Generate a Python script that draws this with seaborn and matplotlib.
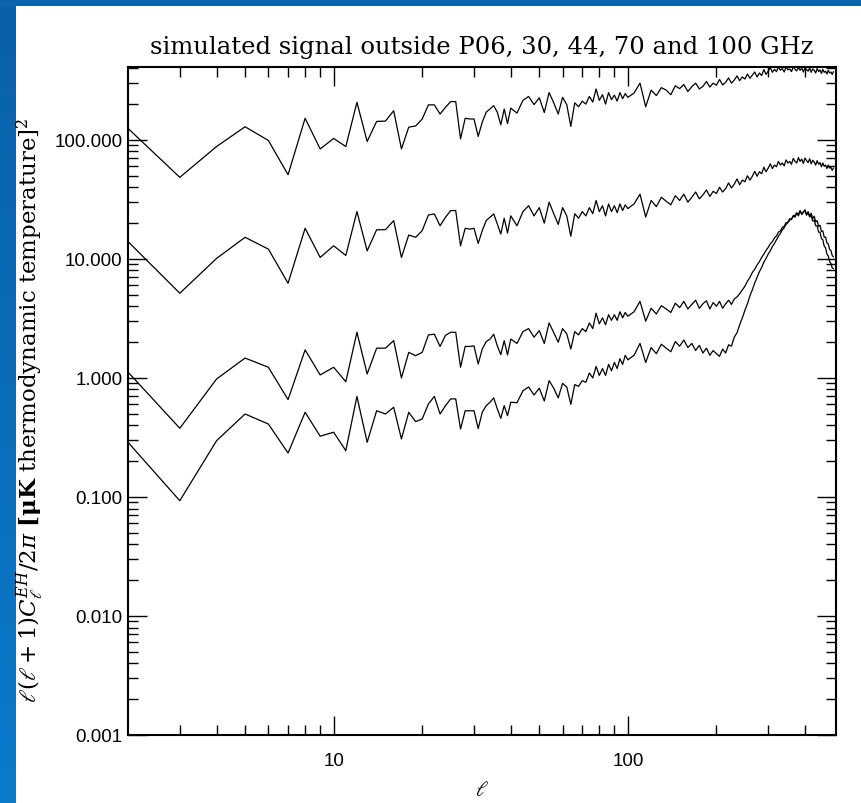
import numpy as np
import pandas as pd
import matplotlib
matplotlib.use("Agg")
import matplotlib.pyplot as plt
import seaborn as sns
from matplotlib.ticker import FixedLocator, FuncFormatter, NullFormatter
from matplotlib.colors import LinearSegmentedColormap

# ---------------- data ----------------
ell = list(range(2, 41)) + list(range(42, 101, 2)) + list(range(105, 501, 5))

s1_low = [125, 48.5, 88, 129, 99, 51, 152, 84, 103, 88, 207, 97, 143, 144, 176, 84, 128, 131, 150,
          197, 197, 165, 188, 210, 210, 102, 152, 150, 150, 107, 141, 171, 182, 194, 171, 134, 182, 137, 185]
s1_mid = [168, 215, 232, 198, 226, 170, 250, 205, 165, 228, 198, 130, 205, 190, 212, 200, 232, 208, 268, 215,
          240, 200, 250, 218, 238, 212, 250, 222, 245, 228]
s1_high = [248, 300, 190, 262, 236, 275, 262, 240, 285, 270, 292, 255, 280, 300, 268, 282, 310, 278, 300, 288,
           322, 290, 305, 332, 300, 318, 345, 315, 338, 325, 358, 330, 350, 372, 338, 365, 348, 390, 355, 378,
           405, 370, 392, 375, 412, 385, 398, 372, 410, 388, 395, 375, 412, 392, 380, 408, 385, 400, 372, 405,
           390, 378, 402, 370, 395, 385, 365, 398, 375, 388, 362, 392, 370, 378, 358, 385, 365, 372, 355, 375]

s2_low = [14.0, 5.15, 10.1, 15.2, 12.1, 6.25, 18.1, 10.3, 12.9, 10.7, 25, 11.7, 17.6, 17.6, 21, 10.3, 15.9, 15.2,
          17.3, 23.4, 23.9, 19.0, 22.4, 25.5, 25.5, 12.9, 18.1, 17.8, 18.1, 13.5, 17.3, 21, 22.4, 23.9, 19.7,
          16.2, 22, 16.5, 23]
s2_mid = [19, 25, 28, 23, 27, 20, 30, 24, 19.5, 27, 23, 15.5, 24, 22, 25, 23, 27, 24, 31, 25,
          28, 23, 29, 25, 28, 24.5, 29, 25.5, 28.5, 26.5]
s2_high = [29, 35, 22.5, 31, 27.5, 33, 30.5, 28.5, 34, 31, 35, 30, 33, 36.5, 32, 34.5, 38, 33.5, 37, 35.5,
           40, 36.5, 39, 43.5, 39.5, 42.5, 47, 42, 46, 44.5, 50, 46, 49.5, 54.5, 49.5, 54, 52, 59, 54, 58,
           63, 57.5, 61.5, 59.5, 66, 61.5, 64, 60.5, 68, 64, 66, 62.5, 70, 66, 64, 71, 66, 69, 63.5, 70.5,
           67, 64.5, 69.5, 63, 67.5, 65, 61.5, 67, 62.5, 64.5, 59.5, 64, 60, 61.5, 57.5, 61.5, 58, 59, 55.5, 58]

s3_low = [1.12, 0.378, 0.98, 1.47, 1.23, 0.658, 1.72, 1.06, 1.23, 0.93, 2.42, 1.08, 1.78, 1.78, 2.06, 1.0,
          1.64, 1.54, 1.64, 2.30, 2.33, 1.84, 2.28, 2.42, 2.42, 1.23, 1.84, 1.84, 1.86, 1.31, 1.75, 2.02,
          2.12, 2.33, 1.86, 1.57, 2.06, 1.56, 2.12]
s3_mid = [1.95, 2.45, 2.6, 2.2, 2.5, 1.95, 2.9, 2.4, 2.0, 2.6, 2.35, 1.75, 2.45, 2.3, 2.6, 2.45, 2.9, 2.6, 3.5,
          2.85, 3.2, 2.8, 3.4, 3.05, 3.4, 3.05, 3.6, 3.2, 3.55, 3.3]
s3_high = [3.6, 4.4, 3.0, 3.85, 3.45, 4.05, 3.8, 3.55, 4.25, 3.9, 4.4, 3.8, 4.15, 4.5, 3.85, 4.2, 4.45, 3.8,
           4.3, 4.0, 4.4, 3.85, 4.2, 4.5, 4.15, 4.6, 4.8, 5.1, 5.5, 5.9, 6.5, 7.0, 7.7, 8.2, 8.9, 9.5, 10.3,
           11.0, 11.8, 12.5, 13.4, 14.0, 15.0, 15.6, 16.8, 17.2, 18.4, 18.8, 20.2, 20.3, 21.8, 21.4, 23.2,
           22.4, 24.3, 23.0, 25.4, 23.6, 24.6, 25.8, 23.4, 25.0, 22.8, 24.2, 21.8, 22.9, 20.5, 21.0, 18.8,
           19.2, 17.0, 17.2, 15.2, 15.3, 13.6, 13.4, 12.0, 11.8, 10.7, 10.4]

s4_low = [0.288, 0.093, 0.297, 0.498, 0.41, 0.234, 0.515, 0.324, 0.35, 0.245, 0.70, 0.288, 0.53, 0.498, 0.567,
          0.307, 0.515, 0.43, 0.452, 0.605, 0.70, 0.498, 0.585, 0.667, 0.667, 0.372, 0.53, 0.53, 0.53, 0.375,
          0.515, 0.585, 0.625, 0.68, 0.55, 0.458, 0.585, 0.482, 0.625]
s4_mid = [0.62, 0.78, 0.84, 0.72, 0.82, 0.64, 0.95, 0.82, 0.68, 0.9, 0.84, 0.6, 0.88, 0.85, 0.95, 0.92, 1.1, 1.0,
          1.25, 1.05, 1.2, 1.05, 1.3, 1.15, 1.35, 1.2, 1.45, 1.3, 1.55, 1.42]
s4_high = [1.55, 1.95, 1.35, 1.8, 1.6, 1.92, 1.78, 1.66, 2.02, 1.85, 2.08, 1.8, 1.95, 1.7, 1.88, 1.62, 1.78,
           1.55, 1.7, 1.6, 1.52, 1.75, 1.62, 1.9, 1.85, 2.2, 2.4, 2.8, 3.2, 3.7, 4.2, 4.9, 5.5, 6.3, 7.0, 7.8,
           8.5, 9.4, 10.1, 11.0, 11.7, 12.7, 13.5, 14.5, 15.5, 16.4, 17.5, 18.3, 19.5, 20.2, 21.2, 21.8, 22.8,
           23.2, 24.4, 23.6, 25.4, 24.0, 24.8, 25.8, 23.4, 24.6, 22.5, 23.2, 20.8, 21.2, 19.0, 19.0, 16.8,
           16.8, 14.8, 14.5, 12.8, 12.4, 11.0, 10.6, 9.5, 9.2, 8.4, 8.3]

series_names = ["s1", "s2", "s3", "s4"]
series_vals = [s1_low + s1_mid + s1_high, s2_low + s2_mid + s2_high,
               s3_low + s3_mid + s3_high, s4_low + s4_mid + s4_high]

y_ticks = [0.001, 0.01, 0.1, 1, 10, 100]
x_ticks = [10, 100]
title = "simulated signal outside P06, 30, 44, 70 and 100 GHz"

frames = []
for name, vals in zip(series_names, series_vals):
    frames.append(pd.DataFrame({"ell": ell, "value": vals, "series": name}))
df = pd.concat(frames, ignore_index=True)

# ---------------- figure ----------------
sns.set_style("ticks")
plt.rcParams["font.family"] = ["Liberation Sans", "DejaVu Sans"]
plt.rcParams["mathtext.fontset"] = "dejavuserif"
plt.rcParams["text.color"] = "black"

W, H = 862, 804
fig = plt.figure(figsize=(W / 100, H / 100), dpi=100, facecolor="white")

# blue frame (left gradient band and top band)
band = fig.add_axes([0, 0, 16 / W, 1])
grad = np.linspace(0, 1, 256).reshape(-1, 1)
cmap = LinearSegmentedColormap.from_list("b", ["#0b60a9", "#0a7bcb"])
band.imshow(grad, aspect="auto", cmap=cmap, origin="upper", extent=[0, 1, 0, 1])
band.set_axis_off()
topband = fig.add_axes([0, 1 - 7 / H, 1, 7 / H])
topband.set_facecolor("#0b63ab")
topband.set_xticks([]); topband.set_yticks([])
for s in topband.spines.values():
    s.set_visible(False)

left, right, top, bottom = 128, 836, 68, 736
ax = fig.add_axes([left / W, 1 - bottom / H, (right - left) / W, (bottom - top) / H])

sns.lineplot(data=df, x="ell", y="value", hue="series", units="series", estimator=None,
             palette=["black"] * 4, legend=False, sort=False, lw=0.9, ax=ax)

ax.set_xscale("log")
ax.set_yscale("log")
ax.set_xlim(2, 510)
ax.set_ylim(0.001, 410)

ax.xaxis.set_major_locator(FixedLocator(x_ticks))
ax.xaxis.set_major_formatter(FuncFormatter(lambda v, p: f"{v:.0f}"))
ax.xaxis.set_minor_locator(FixedLocator([3, 4, 5, 6, 7, 8, 9, 20, 30, 40, 50, 60, 70, 80, 90, 200, 300, 400]))
ax.xaxis.set_minor_formatter(NullFormatter())
ax.yaxis.set_major_locator(FixedLocator(y_ticks))
ax.yaxis.set_major_formatter(FuncFormatter(lambda v, p: f"{v:.3f}"))
ymin_ticks = [m * 10.0 ** e for e in range(-3, 3) for m in range(2, 10) if m * 10.0 ** e < 410]
ax.yaxis.set_minor_locator(FixedLocator(ymin_ticks))
ax.yaxis.set_minor_formatter(NullFormatter())

ax.tick_params(which="major", direction="in", length=14, width=1.0, top=True, right=True,
               labelsize=13.5, colors="black", pad=4)
ax.tick_params(which="minor", direction="in", length=7, width=1.0, top=True, right=True, colors="black")
ax.tick_params(axis="x", which="major", pad=12)
for s in ax.spines.values():
    s.set_linewidth(1.5)
    s.set_color("black")
    s.set_visible(True)

ax.set_xlabel(r"$\ell$", fontsize=15, labelpad=8, color="black")
ax.set_ylabel("")
ax.set_title(title, fontsize=17.5, family=["DejaVu Serif"], pad=10, color="black")

fig.text(30 / W, 1 - 410 / H,
         r"$\ell(\ell+1)C_\ell^{EH}/2\pi$ $\mathbf{[\mu K}$ thermodynamic temperature$]^2$",
         rotation=90, ha="center", va="center", fontsize=16.5, family=["DejaVu Serif"], color="black")

fig.savefig("out.png", dpi=100, facecolor="white")
